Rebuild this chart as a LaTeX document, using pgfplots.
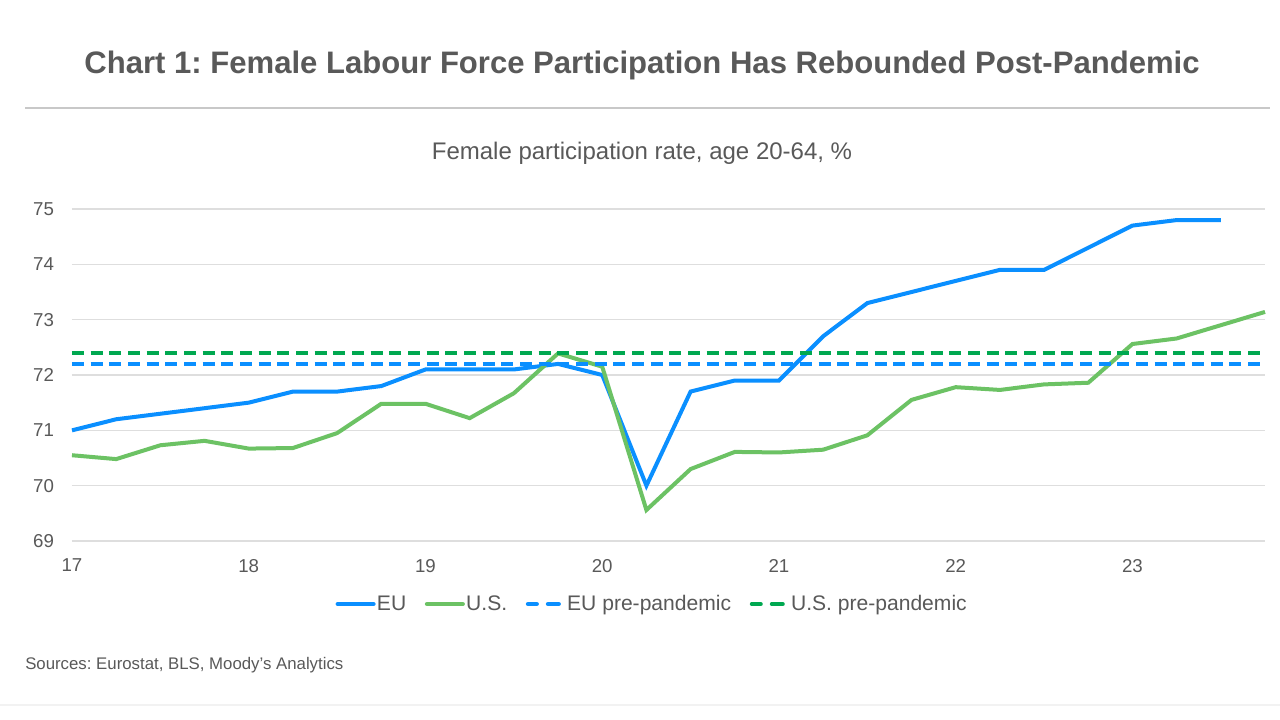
\documentclass[border=0pt]{standalone}
\usepackage{pgfplots}
\pgfplotsset{compat=1.18}
\usepackage{fontspec}
\setmainfont{Liberation Sans}
\frenchspacing
\definecolor{eublue}{RGB}{10,143,255}
\definecolor{usgreen}{RGB}{108,194,100}
\definecolor{dgreen}{RGB}{0,168,80}
\definecolor{txt}{RGB}{89,89,89}
\definecolor{gridc}{RGB}{222,222,222}
\begin{document}
\begin{tikzpicture}
\useasboundingbox (0,0) rectangle (960pt,540pt);
\fill[white] (0,0) rectangle (960pt,540pt);
\node[font=\bfseries\fontsize{23.3}{27}\selectfont, text=txt] at (481.5pt,491pt) {Chart 1: Female Labour Force Participation Has Rebounded Post-Pandemic};
\draw[color={rgb,255:red,200;green,200;blue,200}, line width=1.2pt] (18.75pt,459pt) -- (952.5pt,459pt);
\node[font=\fontsize{18}{21}\selectfont, text=txt] at (481.5pt,425pt) {Female participation rate, age 20-64, \%};
\node[font=\fontsize{12.6}{15}\selectfont, text=txt, anchor=west, inner sep=0pt] at (18.75pt,41.25pt) {Sources: Eurostat, BLS, Moody’s Analytics};
\draw[color={rgb,255:red,242;green,242;blue,242}, line width=1pt] (0pt,11.25pt) -- (960pt,11.25pt);
\begin{axis}[
  at={(54pt,134.25pt)}, anchor=south west,
  scale only axis, width=894.75pt, height=249pt,
  xmin=17, xmax=23.75, ymin=69, ymax=75,
  xtick={17,18,19,20,21,22,23}, ytick={69,70,71,72,73,74,75},
  axis line style={draw=none},
  major tick length=0pt,
  ymajorgrids, grid style={gridc, line width=0.8pt},
  tick label style={font=\fontsize{14}{16}\selectfont, text=txt},
  /pgf/number format/assume math mode=true,
  yticklabel style={xshift=-10pt},
  xticklabel style={yshift=-10pt},
  clip=false,
  legend columns=4,
  legend style={draw=none, fill=none, at={(0.4866,-0.19)}, anchor=center,
    font=\fontsize{15.8}{18}\selectfont, text=txt,
    /tikz/every even column/.append style={column sep=12pt},
    /tikz/every odd column/.append style={column sep=-1pt}},
  legend image code/.code={\path[draw=none] (0pt,0pt) -- (30pt,0pt); \draw[#1, solid, line cap=round] (1.5pt,0pt) -- (28.5pt,0pt);},
]
\addplot[eublue, line width=3pt] coordinates {
(17,71.0) (17.25,71.2) (17.5,71.3) (17.75,71.4) (18,71.5) (18.25,71.7) (18.5,71.7) (18.75,71.8)
(19,72.1) (19.25,72.1) (19.5,72.1) (19.75,72.2) (20,72.0) (20.25,70.0) (20.5,71.7) (20.75,71.9)
(21,71.9) (21.25,72.7) (21.5,73.3) (21.75,73.5) (22,73.7) (22.25,73.9) (22.5,73.9) (22.75,74.3)
(23,74.7) (23.25,74.8) (23.5,74.8)};
\addlegendentry{EU}
\addplot[usgreen, line width=3pt] coordinates {
(17,70.55) (17.25,70.48) (17.5,70.73) (17.75,70.81) (18,70.67) (18.25,70.68) (18.5,70.95) (18.75,71.48)
(19,71.48) (19.25,71.22) (19.5,71.67) (19.75,72.39) (20,72.15) (20.25,69.56) (20.5,70.30) (20.75,70.61)
(21,70.60) (21.25,70.65) (21.5,70.91) (21.75,71.55) (22,71.78) (22.25,71.73) (22.5,71.83) (22.75,71.86)
(23,72.56) (23.25,72.66) (23.5,72.90) (23.75,73.14)};
\addlegendentry{U.S.}
\addplot[eublue, line width=3pt, dash pattern=on 9pt off 5pt,
  legend image code/.code={\path[draw=none] (0pt,0pt) -- (30pt,0pt); \draw[eublue, solid, line width=3pt, line cap=round] (1.5pt,0pt) -- (8.25pt,0pt) (16.5pt,0pt) -- (24.75pt,0pt);}] coordinates {(17,72.2) (23.75,72.2)};
\addlegendentry{EU pre-pandemic}
\addplot[dgreen, line width=3pt, dash pattern=on 9pt off 5pt,
  legend image code/.code={\path[draw=none] (0pt,0pt) -- (30pt,0pt); \draw[dgreen, solid, line width=3pt, line cap=round] (1.5pt,0pt) -- (8.25pt,0pt) (16.5pt,0pt) -- (24.75pt,0pt);}] coordinates {(17,72.4) (23.75,72.4)};
\addlegendentry{U.S. pre-pandemic}
\end{axis}
\end{tikzpicture}
\end{document}
